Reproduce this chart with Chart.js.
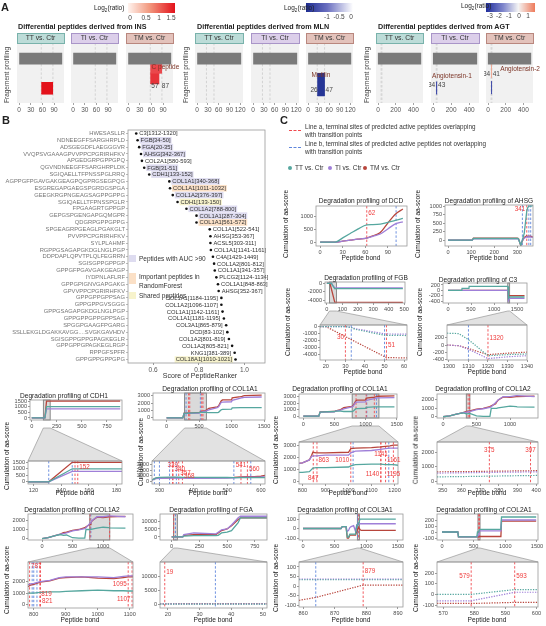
<!DOCTYPE html>
<html>
<head>
<meta charset="utf-8">
<script src="https://cdn.jsdelivr.net/npm/chart.js@4.4.1/dist/chart.umd.min.js"></script>
<style>
  html, body { margin: 0; padding: 0; background: #fff; }
  #stage { position: relative; width: 546px; height: 626px; overflow: hidden; font-family: 'Liberation Sans', Arial, sans-serif; color: #222; }
  #stage canvas { position: absolute; }
  .t { position: absolute; white-space: nowrap; line-height: 1; z-index: 5; }
</style>
</head>
<body>
<div id="stage"><canvas id="links" width="546" height="626" style="left:0;top:0;z-index:0"></canvas></div>
<script>
// ---------- panel A: fragments (facet, start, end, log2 ratio) ----------
const insLength = 110;
const insFacet = ['TT', 'TM', 'TM'];
const insStart = [57, 57, 57];
const insEnd = [87, 87, 80];
const insRatio = [1.6, 1.2, 1.35];

const mlnLength = 122;
const mlnFacet = ['TM'];
const mlnStart = [26];
const mlnEnd = [47];
const mlnRatio = [-1.15];

const agtLength = 485;
const agtFacet = ['TI', 'TM', 'TM'];
const agtStart = [34, 34, 34];
const agtEnd = [43, 41, 43];
const agtRatio = [-3.1, 0.9, -2.9];

// ---------- panel B ----------
const peptides = ['HWESASLLR', 'NDNEEGFFSARGHRPLD', 'ADSGEGDFLAEGGGVR', 'VVQPSVGAAAGPVVPPCPGRIRHFKV', 'APGEDGRPGPPGPQ',
  'QGVNDNEEGFFSARGHRPLDK', 'SGIQAELLTFPNSSPGLRRQ', 'AGPPGFPGAVGAKGEAGPQGPRGSEGPQG', 'ESGREGAPGAEGSPGRDGSPGA',
  'GEEGKRGPNGEAGSAGPPGPPG', 'SGIQAELLTFPNSSPGLR', 'FPGAAGRTGPPGP', 'GEPGSPGENGAPGQMGPR', 'QDGRPGPPGPPG',
  'SPGEAGRPGEAGLPGAKGLT', 'PVVPPCPGRIRHFKV', 'SYLPLAHMF', 'RGPPGSAGAPGKDGLNGLPGP', 'DDPDAPLQPVTPLQLFEGRRN',
  'SGISGPPGPPGP', 'GPPGFPGAVGAKGEAGP', 'IYDPNLAFLRF', 'GPPGPIGNVGAPGAKG', 'GPVVPPCPGRIRHFKV', 'GPPGPPGPPSAG',
  'GPPGPPGVSGGG', 'GPPGSAGAPGKDGLNGLPGP', 'GPPGPPGPPGPPSAG', 'SPGGPGAAGFPGARG', 'SSLLEKGLDGAKKAVGG....SVGKGAVHDV',
  'SGISGPPGPPGPAGKEGLR', 'GPPGPPGPAGKEGLRGP', 'RPPGFSPFR', 'GPPGPPGPPGPG'];
const rankerScore = [0.526, 0.532, 0.539, 0.547, 0.551, 0.561, 0.583, 0.671, 0.674, 0.686, 0.707, 0.746, 0.79, 0.79,
  0.848, 0.851, 0.851, 0.853, 0.862, 0.867, 0.87, 0.877, 0.884, 0.887, 0.899, 0.899, 0.904, 0.91, 0.92, 0.925,
  0.932, 0.946, 0.957, 0.961];
const peptideSource = ['C3[1312-1320]', 'FGB[34-50]', 'FGA[20-35]', 'AHSG[342-367]', 'COL2A1[580-593]', 'FGB[31-51]',
  'CDH1[133-152]', 'COL1A1[340-368]', 'COL1A1[1011-1032]', 'COL1A2[376-397]', 'CDH1[133-150]', 'COL1A2[788-800]',
  'COL1A1[287-304]', 'COL1A1[561-572]', 'COL1A1[522-541]', 'AHSG[353-367]', 'ACSL5[303-311]', 'COL1A1[1141-1161]',
  'C4A[1429-1449]', 'COL1A2[801-812]', 'COL1A1[341-357]', 'PLCG2[1124-1134]', 'COL1A1[848-863]', 'AHSG[352-367]',
  'COL1A1[1184-1195]', 'COL1A2[1096-1107]', 'COL1A1[1142-1161]', 'COL1A1[1181-1195]', 'COL3A1[865-879]',
  'DCD[83-102]', 'COL1A2[801-819]', 'COL1A2[805-821]', 'KNG1[381-389]', 'COL18A1[1010-1021]'];
const peptideGroup = ['', 'auc', 'auc', 'auc', '', 'auc', 'auc', 'auc', 'rf', 'auc', 'shared', 'auc', 'auc', 'rf',
  '', '', '', '', '', '', '', '', '', '', '', '', '', '', '', '', '', '', '', 'shared'];
const scoreTicks = [0.6, 0.8, 1.0];

// ---------- panel C: cumulative aa-score along peptide bonds ----------
const dcdBond = [0, 10, 20, 30, 40, 50, 62, 70, 80, 90, 100, 110];
const dcdTT = [0, 0, 0, 170, 340, 510, 680, 690, 710, 780, 860, 930];
const dcdTI = [0, 0, 0, 40, 80, 120, 160, 230, 320, 520, 720, 800];
const dcdTM = [0, 0, 0, 40, 80, 120, 160, 250, 380, 750, 1100, 1300];

const ahsgBond = [0, 105, 110, 300, 305, 315, 320, 330, 341, 345, 350, 360, 367];
const ahsgTT = [0, 0, 50, 50, 40, -150, -40, 200, 850, 950, 1000, 1000, 1010];
const ahsgTI = [0, 0, 40, 40, 30, -130, -30, 60, 100, 90, 100, 90, 80];
const ahsgTM = [0, 0, 60, 60, 50, -160, -50, 80, 130, 100, 120, 110, 90];

const fgbBond = [0, 20, 30, 35, 50, 51, 491];
const fgbTT = [0, 0, 0, -400, -1250, -1270, -1300];
const fgbTI = [0, 0, 0, -300, -1050, -1070, -1100];
const fgbTM = [0, 0, -1450, -2180, -4360, -4500, -4550];
const fgbZoomBond = [17, 20, 30, 33, 35, 50, 51, 61.5];
const fgbZoomTT = [0, 0, 0, -150, -400, -1250, -1270, -1300];
const fgbZoomTI = [0, 0, 0, -100, -300, -1050, -1070, -1100];
const fgbZoomTM = [0, 0, -1450, -1890, -2180, -4360, -4500, -4550];

const c3Bond = [0, 300, 305, 455, 460, 1300, 1305, 1310, 1320, 1340, 1663];
const c3TT = [0, 0, 70, 70, 150, 150, 140, 80, -300, -250, -250];
const c3TI = [0, 0, 0, 0, 0, 0, -20, -120, -380, -300, -300];
const c3TM = [0, 0, 0, 0, 0, 0, -20, -100, -270, -200, -200];
const c3ZoomBond = [1299, 1305, 1310, 1320, 1330, 1340];
const c3ZoomTT = [330, 320, 150, -300, -270, -250];
const c3ZoomTI = [0, -20, -120, -380, -330, -300];
const c3ZoomTM = [0, -20, -100, -270, -230, -200];

const cdh1Bond = [0, 131, 148, 882];
const cdh1ZoomBond = [116, 131, 148, 184];
const cdh1TT = [0, 0, 1000, 1000];
const cdh1TI = [0, 0, 800, 800];
const cdh1TM = [0, 0, 1500, 1500];

const col1a1Bond = [0, 250, 270, 500, 520, 600, 650, 780, 800, 840, 860, 1000, 1010, 1140, 1160, 1195, 1464];
const col1a1TT = [0, 0, 600, 700, 750, 750, 700, 700, 750, 1100, 1150, 1200, 1350, 1400, 1400, 1400, 1400];
const col1a1TI = [0, 0, 600, 650, 750, 900, 1100, 1400, 1500, 2100, 2150, 2200, 2400, 2700, 2750, 2800, 2850];
const col1a1TM = [0, 0, 650, 700, 800, 1000, 1300, 1500, 1600, 2300, 2450, 2450, 2750, 2900, 2950, 3050, 3100];
const col1a1ZoomABond = [278, 290, 300, 330, 339, 350, 357, 368, 400, 500, 520, 541, 560, 580, 600, 612];
const col1a1ZoomATT = [300, 650, 750, 780, 800, 780, 770, 760, 750, 730, 720, 720, 700, 700, 700, 700];
const col1a1ZoomATI = [250, 550, 600, 620, 650, 630, 620, 620, 600, 620, 650, 750, 780, 800, 820, 850];
const col1a1ZoomATM = [300, 600, 650, 680, 750, 700, 700, 700, 680, 700, 750, 850, 900, 900, 950, 1100];
const col1a1ZoomBBond = [785, 800, 830, 840, 845, 860, 900, 1000, 1010, 1030, 1100, 1140, 1160, 1180, 1195, 1215];
const col1a1ZoomBTT = [750, 750, 800, 1000, 1100, 1150, 1150, 1200, 1300, 1400, 1450, 1450, 1400, 1400, 1400, 1350];
const col1a1ZoomBTI = [1500, 1550, 1800, 2100, 2150, 2150, 2200, 2200, 2400, 2550, 2600, 2700, 2750, 2800, 2800, 2800];
const col1a1ZoomBTM = [1500, 1550, 1800, 2200, 2450, 2400, 2400, 2450, 2750, 2800, 2850, 2900, 2950, 3000, 3050, 3050];

const col1a2Bond = [0, 100, 200, 300, 350, 400, 500, 600, 700, 720, 787, 800, 821, 900, 1000, 1095, 1107, 1366];
const col1a2TT = [0, 100, 300, 450, 350, 400, 100, 50, 50, 1000, 1000, 1000, 1050, 1150, 1250, 1200, 1180, 1150];
const col1a2TI = [0, 100, 300, 500, 560, 620, 850, 950, 1100, 1200, 1700, 1800, 2000, 2400, 2400, 2500, 2500, 2400];
const col1a2TM = [0, 100, 300, 500, 650, 700, 900, 1000, 1200, 1300, 1550, 1750, 1950, 2350, 2300, 2400, 2400, 2450];
const col1a2ZoomABond = [347, 360, 375, 390, 401];
const col1a2ZoomATT = [300, 320, 350, 380, 400];
const col1a2ZoomATI = [560, 580, 610, 630, 650];
const col1a2ZoomATM = [650, 660, 690, 710, 730];
const col1a2ZoomBBond = [782, 790, 800, 820, 850, 880, 900, 950, 1000, 1050, 1080, 1095, 1110];
const col1a2ZoomBTT = [1000, 1000, 1000, 1050, 1100, 1100, 1150, 1200, 1250, 1200, 1200, 1180, 1180];
const col1a2ZoomBTI = [1700, 1800, 1850, 2000, 2100, 2350, 2400, 2400, 2400, 2350, 2450, 2500, 2500];
const col1a2ZoomBTM = [1550, 1700, 1750, 1950, 2050, 2300, 2350, 2400, 2300, 2250, 2350, 2400, 2400];

const fgaBond = [0, 100, 110, 200, 400, 420, 450, 500, 540, 600, 620, 860];
const fgaTT = [0, 0, 500, 800, 800, 1000, 2500, 3000, 4000, 9000, 12000, 12000];
const fgaTI = [0, 0, 1500, 2500, 2000, 3000, 4500, 5000, 7500, 12000, 13000, 13000];
const fgaTM = [0, 0, 1000, 1500, 1500, 2500, 4000, 5000, 7000, 11000, 12000, 12000];
const fgaZoomBond = [17.5, 30, 40, 51.3];
const fgaZoomTT = [-50, -40, -40, -30];
const fgaZoomTI = [60, 70, 80, 90];
const fgaZoomTM = [120, 130, 140, 150];

const col3a1Bond = [0, 600, 620, 680, 700, 720, 740, 760, 800, 830, 850, 870, 880, 900, 920, 1466];
const col3a1TT = [0, 0, 20, 20, -90, -90, -60, -60, -60, -60, 35, 35, 35, 100, 100, 100];
const col3a1TI = [0, 0, 20, 20, -30, -20, 10, 20, 30, -30, 40, 40, 50, 50, 50, 50];
const col3a1TM = [0, 0, 20, 20, -100, -100, -70, -70, -70, -70, -30, 0, 10, -10, -20, -20];
const col3a1ZoomBond = [858.7, 864, 879, 891.6];
const col3a1ZoomTT = [33, 33, 33, 33];
const col3a1ZoomTI = [36, 36, 36, 36];
const col3a1ZoomTM = [-75, -60, 5, 5];

const col2a1Bond = [0, 250, 260, 550, 560, 580, 593, 600, 930, 940, 1000, 1487];
const col2a1TT = [0, 0, -80, -80, 0, 0, 45, 45, 45, 250, 250, 250];
const col2a1TI = [0, 0, -80, -80, -60, -60, 20, 20, 20, 200, 200, 200];
const col2a1TM = [0, 0, -80, -80, -80, -80, -75, -75, -75, 180, 180, 180];
const col2a1ZoomBond = [568, 579, 593, 600.5];
const col2a1ZoomTT = [0, 0, 45, 45];
const col2a1ZoomTI = [-60, -60, 20, 20];
const col2a1ZoomTM = [-85, -85, -75, -75];

// ---------- styles ----------
const FONT = "'Liberation Sans', Arial, sans-serif";
Chart.defaults.font.family = FONT;
Chart.defaults.color = '#4d4d4d';
const TT_C = '#56a79f', TI_C = '#9f7fd8', TM_C = '#b8453c';
const RED = '#f04a4f', BLUE = '#5f86dc';
const YW = 24, XH = 8, PT = 2, PR = 8;

const stage = document.getElementById('stage');

function mkCanvas(l, t, w, h) {
  const c = document.createElement('canvas');
  c.width = w; c.height = h;
  Object.assign(c.style, { left: l + 'px', top: t + 'px', width: w + 'px', height: h + 'px', zIndex: 2 });
  stage.appendChild(c);
  return c;
}

function txt(x, y, s, o = {}) {
  const d = document.createElement('div');
  d.className = 't';
  d.innerHTML = s;
  d.style.left = x + 'px';
  d.style.top = y + 'px';
  d.style.fontSize = (o.size || 6.5) + 'px';
  if (o.bold) d.style.fontWeight = 'bold';
  if (o.color) d.style.color = o.color;
  let tf = o.anchor === 'c' ? 'translate(-50%,-50%)' : o.anchor === 'r' ? 'translate(-100%,-50%)' : 'translate(0,-50%)';
  if (o.rot) tf += ' rotate(-90deg)';
  d.style.transform = tf;
  stage.appendChild(d);
  return d;
}

function box(x, y, w, h, css) {
  const d = document.createElement('div');
  d.style.cssText = `position:absolute;left:${x}px;top:${y}px;width:${w}px;height:${h}px;z-index:4;` + css;
  stage.appendChild(d);
  return d;
}

// frame / highlight / vlines / text notes, all placed through the chart scales
const frame = {
  id: 'frame',
  beforeDraw(chart, args, o) {
    if (!o.fill) return;
    const { ctx, chartArea: a } = chart;
    ctx.save();
    ctx.fillStyle = o.fill;
    ctx.fillRect(a.left, a.top, a.width, a.height);
    ctx.restore();
  },
  beforeDatasetsDraw(chart, args, o) {
    const { ctx, chartArea: a, scales: { x } } = chart;
    ctx.save();
    if (o.hl) {
      const x1 = Math.max(a.left, x.getPixelForValue(o.hl[0]));
      const x2 = Math.min(a.right, x.getPixelForValue(o.hl[1]));
      ctx.fillStyle = 'rgba(150,150,150,0.35)';
      ctx.fillRect(x1, a.top, x2 - x1, a.height);
      ctx.strokeStyle = '#707070';
      ctx.lineWidth = 0.8;
      ctx.strokeRect(x1, a.top, x2 - x1, a.height);
    }
    const lines = [[o.soft || [], '#cfcfcf'], [o.blue || [], BLUE], [o.red || [], RED]];
    lines.forEach(([vals, col]) => {
      ctx.strokeStyle = col;
      ctx.lineWidth = 0.9;
      ctx.setLineDash([2.4, 1.8]);
      vals.forEach(v => {
        const px = x.getPixelForValue(v);
        if (px < a.left || px > a.right) return;
        ctx.beginPath();
        ctx.moveTo(px, a.top);
        ctx.lineTo(px, a.bottom);
        ctx.stroke();
      });
    });
    ctx.restore();
  },
  afterDraw(chart, args, o) {
    const { ctx, chartArea: a, scales: { x, y } } = chart;
    ctx.save();
    if (o.border) {
      ctx.strokeStyle = o.border;
      ctx.lineWidth = 0.8;
      ctx.strokeRect(a.left, a.top, a.width, a.height);
    }
    ctx.textBaseline = 'middle';
    (o.tags || []).forEach(([v, lvl, al]) => {
      const px = x.getPixelForValue(v), py = y.getPixelForValue(lvl);
      ctx.font = `6.3px ${FONT}`;
      ctx.fillStyle = '#ef3b3b';
      ctx.textAlign = al === 'l' ? 'left' : al === 'r' ? 'right' : 'center';
      ctx.fillText(String(v), px + (al === 'l' ? 1.5 : al === 'r' ? -1.5 : 0), py);
    });
    (o.notes || []).forEach(n => {
      ctx.font = `6.5px ${FONT}`;
      ctx.fillStyle = n.color || '#444';
      ctx.textAlign = n.a === 'l' ? 'left' : n.a === 'r' ? 'right' : 'center';
      const dx = n.a === 'l' ? 1 : n.a === 'r' ? -1 : 0;
      ctx.fillText(n.s, x.getPixelForValue(n.x) + dx, y.getPixelForValue(n.y));
    });
    ctx.restore();
  }
};

function axis(range, ticks, which, size) {
  return {
    type: 'linear', min: range[0], max: range[1],
    afterBuildTicks: s => { s.ticks = ticks.map(v => ({ value: v })); },
    afterFit: s => {
      if (which === 'x') s.height = size; else s.width = size;
      s.paddingLeft = s.paddingRight = s.paddingTop = s.paddingBottom = 0;
    },
    grid: { drawOnChartArea: false, drawTicks: true, tickLength: 2, color: '#555', lineWidth: 0.6 },
    border: { display: false },
    ticks: { autoSkip: false, maxRotation: 0, padding: 1, color: '#4d4d4d', font: { size: 5.6 }, callback: v => String(v) }
  };
}

// ---------- panel A ----------
function mix(c1, c2, t) {
  const a = c1.match(/\w\w/g).map(h => parseInt(h, 16));
  const b = c2.match(/\w\w/g).map(h => parseInt(h, 16));
  return 'rgb(' + a.map((v, i) => Math.round(v + (b[i] - v) * t)).join(',') + ')';
}
const insColor = v => mix('fde6dc', 'e3121b', Math.min(1, v / 1.6));
const mlnColor = v => mix('ffffff', '1d2c91', Math.min(1, -v / 1.2));
const agtColor = v => v < 0 ? mix('f4f4f4', '1f2d9c', Math.min(1, -v / 3.3)) : mix('f4f4f4', 'ee7a5a', Math.min(1, v / 1.4));

function facet(b, range, ticks, len, bars, soft, notes) {
  const [l, t, w, h] = b;
  const cv = mkCanvas(l - 2, t - PT, w + 10, h + PT + 11);
  new Chart(cv, {
    type: 'bar',
    data: {
      datasets: [{ data: [{ x: [1, len], y: 0.57 }], backgroundColor: '#7a7a7a', barThickness: 11, grouped: false }]
        .concat(bars.map(r => ({ data: [{ x: [r.from, r.to], y: r.row }], backgroundColor: r.color, borderColor: r.color,
          borderWidth: 0.6, barThickness: r.th, grouped: false })))
    },
    options: {
      indexAxis: 'y', responsive: false, animation: false, events: [],
      layout: { padding: { top: PT, right: 8, left: 2, bottom: 0 } },
      plugins: { legend: { display: false }, tooltip: { enabled: false }, frame: { fill: '#f1f1f1', soft, notes } },
      scales: {
        x: Object.assign(axis(range, ticks, 'x', 11), { ticks: { autoSkip: false, maxRotation: 0, padding: 1, color: '#555', font: { size: 6.5 }, callback: v => String(v) }, grid: { drawOnChartArea: false, tickLength: 2, color: '#666', lineWidth: 0.6 } }),
        y: { type: 'linear', min: 0, max: 4, reverse: true, display: false }
      }
    },
    plugins: [frame]
  });
}

function group(name, left, facets, range, ticks, len, facetIds, starts, ends, ratios, colorOf, rows, thick, soft, notes) {
  txt(left + 1, 27, 'Differential peptides derived from ' + name, { bold: true, size: 7.2 });
  txt(left - 10, 75, 'Fragement profiling', { anchor: 'c', rot: true, size: 6.5, color: '#444' });
  const strips = [['TT vs. Ctr', '#bcdcd8', '#79b2ab'], ['TI vs. Ctr', '#dccfea', '#a995c8'], ['TM vs. Ctr', '#e3c2bb', '#b9877e']];
  ['TT', 'TI', 'TM'].forEach((f, k) => {
    const fb = facets[k];
    box(fb[0], 33, fb[2] - 1, 9, `background:${strips[k][1]};border:0.6px solid ${strips[k][2]};`);
    txt(fb[0] + fb[2] / 2, 38, strips[k][0], { anchor: 'c', size: 6.8, color: '#333' });
    const bars = [];
    facetIds.forEach((id, i) => {
      if (id === f) bars.push({ from: starts[i], to: ends[i], color: colorOf(ratios[i]), row: rows[i], th: thick[i] });
    });
    facet(fb, range, ticks, len, bars, soft, notes[f] || []);
  });
}

txt(1, 7, 'A', { bold: true, size: 11 });

group('INS', 17, [[17, 43, 47, 60], [71, 43, 47, 60], [126, 43, 47, 60]], [-5.5, 115.5], [0, 30, 60, 90], insLength,
  insFacet, insStart, insEnd, insRatio, insColor, [3.53, 1.5, 2.57], [12, 11, 11], [57, 87],
  { TM: [{ x: 96, y: 1.45, s: 'C peptide', a: 'c', color: '#7b3325' }, { x: 57, y: 3.35, s: '57', a: 'l' }, { x: 84, y: 3.35, s: '87', a: 'l' }] });

group('MLN', 196, [[195, 43, 48, 60], [251, 43, 48, 60], [306, 43, 47, 60]], [-6, 128], [0, 30, 60, 90, 120], mlnLength,
  mlnFacet, mlnStart, mlnEnd, mlnRatio, mlnColor, [3.17], [23], [26, 47],
  { TM: [{ x: 36.5, y: 2.25, s: 'Motilin', a: 'c', color: '#7b3325' }, { x: 30, y: 3.75, s: '26', a: 'r' }, { x: 47, y: 3.75, s: '47', a: 'l' }] });

group('AGT', 377, [[376, 43, 47, 60], [431, 43, 48, 60], [486, 43, 47, 60]], [-24, 509], [0, 200, 400], agtLength,
  agtFacet, agtStart, agtEnd, agtRatio, agtColor, [3.5, 1.8, 3.47], [13, 14, 13], [34, 43],
  {
    TI: [{ x: 209, y: 2.33, s: 'Angiotensin-1', a: 'c', color: '#7b3325' }, { x: 34, y: 3.18, s: '34', a: 'r' }, { x: 43, y: 3.18, s: '43', a: 'l' }],
    TM: [{ x: 362, y: 1.67, s: 'Angiotensin-2', a: 'c', color: '#7b3325' }, { x: 34, y: 2.13, s: '34', a: 'r' }, { x: 41, y: 2.13, s: '41', a: 'l' }]
  });

// colour bars
txt(94, 9, 'Log<sub style="font-size:4.5px">2</sub>(ratio)', { size: 6.5 });
box(128, 3, 47, 10, 'background:linear-gradient(to right,#fff3ee,#f29a80 45%,#e3121b);');
[['0', 130], ['0.5', 146], ['1', 159], ['1.5', 171]].forEach(([s, x]) => txt(x, 18, s, { anchor: 'c', size: 6.5, color: '#444' }));
txt(284, 9, 'Log<sub style="font-size:4.5px">2</sub>(ratio)', { size: 6.5 });
box(306, 3, 47, 9, 'background:linear-gradient(to right,#1d2c91,#6a6fc0 45%,#ffffff);');
[['-1', 327], ['-0.5', 339], ['0', 351]].forEach(([s, x]) => txt(x, 17, s, { anchor: 'c', size: 6.5, color: '#444' }));
txt(461, 7, 'Log<sub style="font-size:4.5px">2</sub>(ratio)', { size: 6.5 });
box(486, 3, 49, 9, 'background:linear-gradient(to right,#1f2d9c,#7f86cc 35%,#f4f4f4 66%,#ee7a5a);');
[['-3', 490], ['-2', 499], ['-1', 509], ['0', 519], ['1', 528]].forEach(([s, x]) => txt(x, 16, s, { anchor: 'c', size: 6.5, color: '#444' }));

// ---------- panel B ----------
txt(2, 120, 'B', { bold: true, size: 11 });
const groupFill = { auc: '#dedcf0', rf: '#fbe0c6', shared: '#f7f3cc' };
const LEFT_LABELS_FROM = 24;
const pepTags = {
  id: 'pepTags',
  afterDatasetsDraw(chart) {
    const { ctx } = chart;
    const pts = chart.getDatasetMeta(0).data;
    ctx.save();
    ctx.font = `5.8px ${FONT}`;
    ctx.textBaseline = 'middle';
    pts.forEach((p, i) => {
      const s = peptideSource[i];
      const w = ctx.measureText(s).width;
      const x0 = i >= LEFT_LABELS_FROM ? p.x - 3.5 - w : p.x + 3;
      const bg = groupFill[peptideGroup[i]];
      if (bg) { ctx.fillStyle = bg; ctx.fillRect(x0 - 1, p.y - 3.3, w + 2, 6.6); }
      ctx.fillStyle = '#333';
      ctx.fillText(s, x0, p.y + 0.3);
    });
    ctx.restore();
  }
};
{
  const l = 128, t = 128, w = 137, h = 235;
  const cv = mkCanvas(0, t - PT, l + w + 6, h + PT + 12);
  new Chart(cv, {
    type: 'scatter',
    data: { datasets: [{ data: peptides.map((p, i) => ({ x: rankerScore[i], y: p })), pointRadius: 1.3, backgroundColor: '#111', borderWidth: 0 }] },
    options: {
      responsive: false, animation: false, events: [],
      layout: { padding: { top: PT, right: 6, left: 0, bottom: 0 } },
      plugins: { legend: { display: false }, tooltip: { enabled: false }, frame: { border: '#9a9a9a' } },
      scales: {
        x: Object.assign(axis([0.49, 1.09], scoreTicks, 'x', 12), { ticks: { autoSkip: false, maxRotation: 0, padding: 1.5, color: '#555', font: { size: 6.5 }, callback: v => v.toFixed(1) } }),
        y: {
          type: 'category', labels: peptides, offset: true,
          afterFit: s => { s.width = l; s.paddingTop = s.paddingBottom = 0; },
          grid: { drawOnChartArea: false, tickLength: 2, color: '#777', lineWidth: 0.5 },
          border: { display: false },
          ticks: { autoSkip: false, padding: 1, color: '#777', font: { size: 5.8 } }
        }
      }
    },
    plugins: [frame, pepTags]
  });
}
box(129, 255, 7, 7, 'background:' + groupFill.auc);
txt(139, 259, 'Peptides with AUC &gt;90', { size: 6.5, color: '#333' });
box(129, 273, 7, 11, 'background:' + groupFill.rf);
txt(139, 277, 'Important peptides in', { size: 6.5, color: '#333' });
txt(139, 286, 'RandomForest', { size: 6.5, color: '#333' });
box(129, 292, 7, 7, 'background:' + groupFill.shared);
txt(139, 296, 'Shared peptides', { size: 6.5, color: '#333' });
txt(200, 375, 'Score of PeptideRanker', { anchor: 'c', size: 7, color: '#333' });

// ---------- panel C ----------
txt(280, 120, 'C', { bold: true, size: 11 });
box(289, 130, 12, 0, `border-top:1px dashed ${RED};`);
txt(305, 127, 'Line a, terminal sites of predicted active peptides overlapping', { size: 6.3, color: '#333' });
txt(305, 135, 'with transition points', { size: 6.3, color: '#333' });
box(289, 147, 12, 0, `border-top:1px dashed ${BLUE};`);
txt(305, 144, 'Line b, terminal sites of predicted active peptides not overlapping', { size: 6.3, color: '#333' });
txt(305, 152, 'with transition points', { size: 6.3, color: '#333' });
[[TT_C, 'TT vs. Ctr', 290], [TI_C, 'TI vs. Ctr', 330], [TM_C, 'TM vs. Ctr', 365]].forEach(([c, s, x]) => {
  box(x - 2, 166, 4, 4, `background:${c};border-radius:50%;`);
  txt(x + 5, 168, s, { size: 6.5, color: '#333' });
});

const profiles = [
  { key: 'dcd', title: ['Degradation profiling of DCD', 361, 201], box: [316, 206, 91, 40], x: [-5.5, 115.5], xt: [0, 30, 60, 90], y: [-150, 1420], yt: [0, 500, 1000],
    bond: dcdBond, tt: dcdTT, ti: dcdTI, tm: dcdTM, red: [62], blue: [101], tags: [[62, 1150, 'l']], smooth: true, xlab: [361, 258], ylab: [286, 224] },
  { key: 'ahsg', title: ['Degradation profiling of AHSG', 489, 201], box: [445, 205, 88, 41], x: [-13, 368], xt: [0, 100, 200, 300], y: [-170, 1030], yt: [0, 250, 500, 750, 1000],
    bond: ahsgBond, tt: ahsgTT, ti: ahsgTI, tm: ahsgTM, red: [341], blue: [322, 350, 358], tags: [[341, 900, 'r']], xlab: [489, 258], ylab: [418, 224] },
  { key: 'fgb', title: ['Degradation profiling of FGB', 366, 278], box: [325, 282, 80, 21], x: [-12, 505], xt: [0, 100, 200, 300, 400, 500], y: [-4700, 300], yt: [0, -2000, -4000],
    bond: fgbBond, tt: fgbTT, ti: fgbTI, tm: fgbTM, red: [], blue: [] },
  { key: 'fgbZoom', of: 'fgb', box: [320, 325, 87, 35], x: [17, 61.5], xt: [20, 30, 40, 50, 60], y: [-4850, 230], yt: [0, -1000, -2000, -3000, -4000],
    bond: fgbZoomBond, tt: fgbZoomTT, ti: fgbZoomTI, tm: fgbZoomTM, dotted: true, red: [30, 51], blue: [33, 50], tags: [[30, -1600, 'r'], [51, -2700, 'l']], xlab: [363, 372], ylab: [288, 322] },
  { key: 'c3', title: ['Degradation profiling of C3', 478, 280], box: [443, 283, 84, 20], x: [-109, 1717], xt: [0, 500, 1000, 1500], y: [-475, 275], yt: [200, 0, -200, -400],
    bond: c3Bond, tt: c3TT, ti: c3TI, tm: c3TM, red: [], blue: [] },
  { key: 'c3Zoom', of: 'c3', box: [447, 325, 80, 35], x: [1299, 1340], xt: [1300, 1310, 1320, 1330, 1340], y: [-420, 560], yt: [200, 0, -200, -400],
    bond: c3ZoomBond, tt: c3ZoomTT, ti: c3ZoomTI, tm: c3ZoomTM, dotted: true, red: [1320], blue: [1310], tags: [[1320, 200, 'l']], xlab: [487, 372], ylab: [420, 322] },
  { key: 'cdh1', title: ['Degradation profiling of CDH1', 64, 396], box: [30, 400, 92, 20], x: [-17, 900], xt: [0, 250, 500, 750], y: [-180, 1590], yt: [0, 500, 1000, 1500],
    bond: cdh1Bond, tt: cdh1TT, ti: cdh1TI, tm: cdh1TM, red: [], blue: [] },
  { key: 'cdh1Zoom', of: 'cdh1', box: [28, 461, 94, 23], x: [116, 184], xt: [120, 140, 160, 180], y: [-170, 1600], yt: [0, 500, 1000, 1500],
    bond: cdh1ZoomBond, tt: cdh1TT, ti: cdh1TI, tm: cdh1TM, red: [150, 152], blue: [131, 148], tags: [[152, 1100, 'l']], xlab: [75, 493], ylab: [7, 456] },
  { key: 'col1a1A', title: ['Degradation profiling of COL1A1', 210, 389], box: [153, 393, 112, 27], x: [-209, 1515], xt: [0, 500, 1000, 1500], y: [-300, 3400], yt: [0, 1000, 2000, 3000],
    bond: col1a1Bond, tt: col1a1TT, ti: col1a1TI, tm: col1a1TM, red: [339, 357, 541, 560], blue: [300, 520] },
  { key: 'col1a1AZoom', of: 'col1a1A', box: [152, 461, 113, 23], x: [278, 612], xt: [300, 400, 500, 600], y: [-400, 3600], yt: [0, 1000, 2000, 3000],
    bond: col1a1ZoomABond, tt: col1a1ZoomATT, ti: col1a1ZoomATI, tm: col1a1ZoomATM, red: [339, 340, 357, 368, 541, 560], blue: [285, 300, 330, 350, 520, 570],
    tags: [[339, 2800, 'c'], [340, 2100, 'l'], [357, 1500, 'l'], [368, 1000, 'l'], [541, 2800, 'c'], [560, 2100, 'l']], xlab: [208, 493], ylab: [141, 452] },
  { key: 'col1a1B', title: ['Degradation profiling of COL1A1', 340, 389], box: [299, 394, 98, 24], x: [-69, 1505], xt: [0, 500, 1000, 1500], y: [-300, 3400], yt: [0, 1000, 2000, 3000],
    bond: col1a1Bond, tt: col1a1TT, ti: col1a1TI, tm: col1a1TM, red: [847, 1010, 1141], blue: [1020, 1175] },
  { key: 'col1a1BZoom', of: 'col1a1B', box: [299, 442, 99, 42], x: [785, 1215], xt: [800, 900, 1000, 1100, 1200], y: [-240, 3320], yt: [0, 1000, 2000, 3000],
    bond: col1a1ZoomBBond, tt: col1a1ZoomBTT, ti: col1a1ZoomBTI, tm: col1a1ZoomBTM, red: [847, 863, 1010, 1140, 1141, 1161, 1195], blue: [1020, 1175],
    tags: [[847, 250, 'c'], [863, 1750, 'l'], [1010, 1750, 'r'], [1140, 550, 'r'], [1141, 2250, 'c'], [1161, 1750, 'l'], [1195, 550, 'c']], xlab: [348, 493], ylab: [276, 450] },
  { key: 'col1a2A', title: ['Degradation profiling of COL1A2', 483, 389], box: [437, 394, 101, 24], x: [-90, 1418], xt: [0, 500, 1000], y: [-150, 2700], yt: [0, 1000, 2000],
    bond: col1a2Bond, tt: col1a2TT, ti: col1a2TI, tm: col1a2TM, red: [375, 397], blue: [] },
  { key: 'col1a2AZoom', of: 'col1a2A', box: [437, 442, 101, 42], x: [347, 401], xt: [350, 360, 370, 380, 390, 400], y: [-190, 2700], yt: [0, 1000, 2000],
    bond: col1a2ZoomABond, tt: col1a2ZoomATT, ti: col1a2ZoomATI, tm: col1a2ZoomATM, dotted: true, red: [375, 397], blue: [],
    tags: [[375, 2150, 'c'], [397, 2150, 'c']], xlab: [487, 493], ylab: [416, 450] },
  { key: 'col1a2B', title: ['Degradation profiling of COL1A2', 72, 510], box: [28, 514, 105, 26], x: [-230, 1490], xt: [0, 500, 1000], y: [-150, 2700], yt: [0, 1000, 2000],
    bond: col1a2Bond, tt: col1a2TT, ti: col1a2TI, tm: col1a2TM, red: [787, 1107], blue: [800] },
  { key: 'col1a2BZoom', of: 'col1a2B', box: [28, 562, 105, 46], x: [782, 1110], xt: [800, 900, 1000, 1100], y: [-300, 3700], yt: [0, 1000, 2000],
    bond: col1a2ZoomBBond, tt: col1a2ZoomBTT, ti: col1a2ZoomBTI, tm: col1a2ZoomBTM, red: [787, 819, 821, 1095, 1107], blue: [795, 800, 810],
    tags: [[787, 3300, 'l'], [819, 900, 'l'], [821, 250, 'l'], [1095, 1800, 'r'], [1107, 450, 'r']], xlab: [80, 620], ylab: [7, 580] },
  { key: 'fga', title: ['Degradation profiling of FGA', 211, 510], box: [160, 514, 107, 26], x: [-105, 860], xt: [0, 250, 500, 750], y: [-1900, 14400], yt: [0, 5000, 10000],
    bond: fgaBond, tt: fgaTT, ti: fgaTI, tm: fgaTM, red: [19], blue: [35] },
  { key: 'fgaZoom', of: 'fga', box: [160, 562, 107, 46], x: [17.5, 51.3], xt: [20, 30, 40, 50], y: [-1400, 15000], yt: [0, 5000, 10000],
    bond: fgaZoomBond, tt: fgaZoomTT, ti: fgaZoomTI, tm: fgaZoomTM, dotted: true, red: [19], blue: [35], tags: [[19, 11500, 'l']], xlab: [213, 620] },
  { key: 'col3a1', title: ['Degradation profiling of COL3A1', 345, 510], box: [299, 514, 104, 26], x: [-63, 1580], xt: [0, 500, 1000, 1500], y: [-121, 153], yt: [-100, 0, 100],
    bond: col3a1Bond, tt: col3a1TT, ti: col3a1TI, tm: col3a1TM, red: [879], blue: [864] },
  { key: 'col3a1Zoom', of: 'col3a1', box: [299, 562, 104, 45], x: [858.7, 891.6], xt: [860, 870, 880, 890], y: [-110, 126], yt: [-100, -50, 0, 50, 100],
    bond: col3a1ZoomBond, tt: col3a1ZoomTT, ti: col3a1ZoomTI, tm: col3a1ZoomTM, dotted: true, red: [879], blue: [864], tags: [[879, 80, 'l']], xlab: [351, 620], ylab: [276, 578] },
  { key: 'col2a1', title: ['Degradation profiling of COL2A1', 484, 510], box: [437, 514, 101, 26], x: [-79, 1516], xt: [0, 500, 1000, 1500], y: [-133, 300], yt: [-100, 0, 100, 200],
    bond: col2a1Bond, tt: col2a1TT, ti: col2a1TI, tm: col2a1TM, red: [579, 593], blue: [] },
  { key: 'col2a1Zoom', of: 'col2a1', box: [437, 562, 101, 45], x: [568, 600.5], xt: [570, 580, 590, 600], y: [-118, 303], yt: [-100, 0, 100, 200],
    bond: col2a1ZoomBond, tt: col2a1ZoomTT, ti: col2a1ZoomTI, tm: col2a1ZoomTM, dotted: true, red: [579, 593], blue: [], tags: [[579, 165, 'r'], [593, 165, 'l']], xlab: [487, 620], ylab: [416, 578] }
];

// the zoomed range of each inset is highlighted on its overview plot
const byKey = {};
profiles.forEach(p => { byKey[p.key] = p; });
profiles.forEach(p => { if (p.of) byKey[p.of].hl = p.x; });

const charts = {};
profiles.forEach(p => {
  const [l, t, w, h] = p.box;
  const cv = mkCanvas(l - YW, t - PT, w + YW + PR, h + PT + XH);
  const series = [[p.tt, TT_C], [p.ti, TI_C], [p.tm, TM_C]];
  charts[p.key] = new Chart(cv, {
    type: 'line',
    data: {
      datasets: series.map(([vals, col]) => ({
        data: p.bond.map((b, i) => ({ x: b, y: vals[i] })),
        borderColor: col, borderWidth: p.dotted ? 1.2 : 1.3, borderDash: p.dotted ? [1.3, 1.3] : [],
        pointRadius: 0, fill: false, cubicInterpolationMode: p.smooth ? 'monotone' : 'default', tension: 0
      }))
    },
    options: {
      responsive: false, animation: false, events: [],
      layout: { padding: { top: PT, right: PR, left: 0, bottom: 0 } },
      plugins: { legend: { display: false }, tooltip: { enabled: false },
        frame: { border: '#9a9a9a', hl: p.hl, red: p.red, blue: p.blue, tags: p.tags || [] } },
      scales: { x: axis(p.x, p.xt, 'x', XH), y: axis(p.y, p.yt, 'y', YW) }
    },
    plugins: [frame]
  });
  if (p.title) txt(p.title[1], p.title[2], p.title[0], { anchor: 'c', size: 6.6, color: '#222' });
  if (p.xlab) txt(p.xlab[0], p.xlab[1], 'Peptide bond', { anchor: 'c', size: 6.6, color: '#222' });
  if (p.ylab) txt(p.ylab[0], p.ylab[1], 'Cumulation of aa-score', { anchor: 'c', rot: true, size: 6.6, color: '#222' });
});

// grey funnels from overview highlight down to the inset
const lctx = document.getElementById('links').getContext('2d');
profiles.filter(p => p.of).forEach(p => {
  const top = byKey[p.of];
  const xs = charts[p.of].scales.x;
  const [tl, tt, tw, th] = top.box;
  const clamp = v => Math.min(tl + tw, Math.max(tl, v));
  const x1 = clamp(tl - YW + xs.getPixelForValue(p.x[0]));
  const x2 = clamp(tl - YW + xs.getPixelForValue(p.x[1]));
  const yTop = tt + th + XH;
  const [zl, zt, zw] = p.box;
  lctx.beginPath();
  lctx.moveTo(x1, yTop);
  lctx.lineTo(x2, yTop);
  lctx.lineTo(zl + zw, zt);
  lctx.lineTo(zl, zt);
  lctx.closePath();
  lctx.fillStyle = '#e2e2e2';
  lctx.fill();
  lctx.strokeStyle = '#8a8a8a';
  lctx.lineWidth = 0.6;
  lctx.stroke();
});
</script>
</body>
</html>
